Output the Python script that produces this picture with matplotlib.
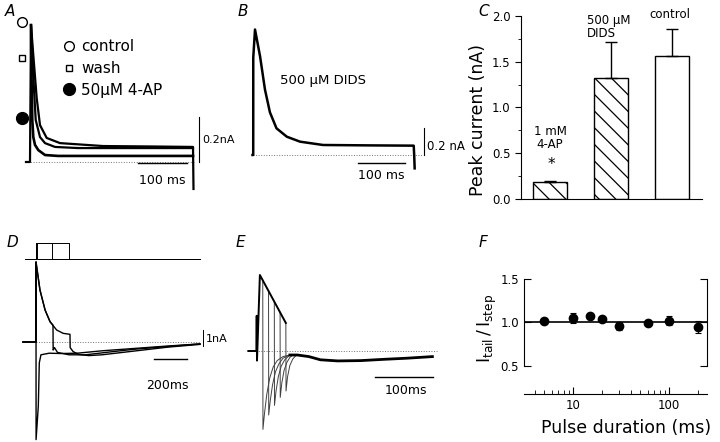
import numpy as np
import matplotlib.pyplot as plt
from matplotlib.lines import Line2D
from matplotlib.ticker import FixedLocator, LogLocator, NullFormatter

plt.rcParams['font.family'] = ['DejaVu Sans']
plt.rcParams['hatch.linewidth'] = 0.9

# ---------------- values ----------------
# A: K current (nA) vs time (ms)
A_t_ctrl = [-4, 4, 6, 10.6, 17.4, 24, 37.4, 64, 150, 250, 330, 331]
A_i_ctrl = [0, 0, 0.609, 0.476, 0.284, 0.164, 0.107, 0.084, 0.071, 0.069, 0.067, -0.12]
A_t_wash = [6, 10.6, 15.4, 24, 34, 54, 100, 330]
A_i_wash = [0.609, 0.378, 0.187, 0.111, 0.084, 0.067, 0.062, 0.062]
A_t_4ap = [6, 7, 8.6, 10.6, 14, 20.6, 34, 60, 330]
A_i_4ap = [0.609, 0.378, 0.187, 0.111, 0.076, 0.053, 0.031, 0.027, 0.027]
A_peak = [0.622, 0.462, 0.196]
A_names = ['control', 'wash', '50μM 4-AP']

# B: current in 500 uM DIDS
B_t = [-1, 0.5, 0.6, 4.3, 15, 25.5, 36, 50, 72, 100, 149, 250, 342, 343, 344]
B_i = [0, 0, 0.73, 0.94, 0.74, 0.49, 0.32, 0.2, 0.137, 0.1, 0.075, 0.072, 0.07, 0, -0.1]

# C: peak current (nA)
C_names = ['1 mM\n4-AP', '500 μM\nDIDS', 'control']
C_mean = [0.19, 1.32, 1.565]
C_sem = [0.01, 0.40, 0.29]

# D: pulses (ms) and currents (nA)
D_pulse = [5, 100, 200]
D_t_short = [-79, -2, 0, 0.5, 14, 20, 30, 80, 150, 250, 400, 600, 800, 994]
D_i_short = [0, 0, 5.0, -6.1, -4.0, -1.3, -0.8, -0.7, -0.72, -0.7, -0.55, -0.4, -0.25, -0.12]
D_t_mid = [-79, -1, 0, 24, 55, 85, 103, 104, 112, 130, 200, 300, 450, 600, 800, 994]
D_i_mid = [0, 0, 5.0, 3.25, 2.0, 1.27, 1.05, -0.5, -0.35, -0.65, -0.8, -0.8, -0.62, -0.45, -0.28, -0.12]
D_t_long = [-79, -1, 0, 24, 55, 85, 125, 165, 206, 207, 225, 260, 320, 400, 500, 650, 800, 994]
D_i_long = [0, 0, 5.0, 3.25, 2.0, 1.27, 0.75, 0.54, 0.48, -0.35, -0.6, -0.78, -0.85, -0.8, -0.68, -0.5, -0.32, -0.15]

# E: envelope and tail currents for 10-50 ms steps
E_t_env = [-15, -1, -0.5, 0, 5, 20, 35, 50]
E_i_env = [0, 0, 2.2, -0.6, 4.75, 3.75, 2.75, 1.75]
E_tail_t = [[10, 10.3, 13, 17, 22, 28, 35, 45, 57],
            [20, 20.3, 23, 27, 32, 38, 45, 57],
            [30, 30.3, 33, 37, 42, 48, 57],
            [40, 40.3, 43, 47, 52, 57, 62],
            [50, 50.3, 53, 57, 62, 67]]
E_tail_i = [[4.42, -4.9, -3.9, -2.7, -1.7, -1.0, -0.6, -0.35, -0.25],
            [3.75, -4.0, -3.1, -2.1, -1.3, -0.8, -0.45, -0.25],
            [3.08, -3.4, -2.5, -1.6, -0.95, -0.55, -0.25],
            [2.42, -2.9, -2.0, -1.2, -0.7, -0.4, -0.25],
            [1.75, -2.5, -1.6, -0.9, -0.5, -0.3]]
E_t_late = [57, 70, 90, 110, 140, 180, 220, 260, 304]
E_i_late = [-0.25, -0.25, -0.35, -0.55, -0.62, -0.6, -0.52, -0.45, -0.35]

# F: tail / step ratio vs pulse duration
F_dur = [5, 10, 15, 20, 30, 60, 100, 200]
F_ratio = [1.02, 1.05, 1.07, 1.04, 0.96, 0.99, 1.02, 0.95]
F_err = [0.01, 0.06, 0.01, 0.01, 0.05, 0.01, 0.05, 0.07]

fig = plt.figure(figsize=(7.2, 4.42), dpi=100)


def box(x0, y0, x1, y1):
    # axes from pixel box of the 720x442 figure
    return fig.add_axes([x0 / 720, 1 - y1 / 442, (x1 - x0) / 720, (y1 - y0) / 442])


for lab, x, y in [('A', 10, 12), ('B', 243, 12), ('C', 484, 12),
                  ('D', 12, 242), ('E', 240, 242), ('F', 483, 242)]:
    fig.text(x / 720, 1 - y / 442, lab, ha='center', va='center',
             style='italic', fontsize=11)

# ---- A
ax = box(10, 10, 245, 200)
ax.set_xlim(-36, 434)
ax.set_ylim(-0.169, 0.676)
ax.axis('off')
ax.plot([0, 334], [0, 0], ls=':', color='0.45', lw=0.7)
ax.plot(A_t_ctrl, A_i_ctrl, color='k', lw=1.6)
ax.plot(A_t_wash, A_i_wash, color='k', lw=1.6)
ax.plot(A_t_4ap, A_i_4ap, color='k', lw=1.9)
ax.plot([-12], [A_peak[0]], 'o', mfc='white', mec='k', ms=7, mew=1)
ax.plot([-12], [A_peak[1]], 's', mfc='white', mec='k', ms=5, mew=1)
ax.plot([-12], [A_peak[2]], 'o', color='k', ms=8.5)
ax.plot([342, 342], [0, 0.2], color='k', lw=0.8)
ax.plot([220, 318], [-0.004, -0.004], color='k', lw=1)
ax.text(348, 0.098, '0.2nA', fontsize=8, va='center', ha='left')
ax.text(268, -0.084, '100 ms', fontsize=9, va='center', ha='center')
handles = [Line2D([], [], marker='o', ls='none', mfc='white', mec='k', ms=7),
           Line2D([], [], marker='s', ls='none', mfc='white', mec='k', ms=5),
           Line2D([], [], marker='o', ls='none', color='k', ms=8.5)]
ax.legend(handles, A_names, loc='upper left', bbox_to_anchor=(61 / 720, 1 - 39 / 442),
          bbox_transform=fig.transFigure, frameon=False, handlelength=1.0,
          handletextpad=0.3, labelspacing=0.45, borderpad=0, borderaxespad=0,
          fontsize=11)

# ---- B
ax = box(245, 15, 475, 195)
ax.set_xlim(-17, 472.4)
ax.set_ylim(-0.2996, 1.0487)
ax.axis('off')
ax.plot([0, 362], [0, 0], ls=':', color='0.45', lw=0.7)
ax.plot(B_t, B_i, color='k', lw=1.8)
ax.plot([364, 364], [0, 0.2], color='k', lw=0.8)
ax.plot([223, 323], [-0.06, -0.06], color='k', lw=1)
ax.text(370, 0.06, '0.2 nA', fontsize=8.5, va='center', ha='left')
ax.text(272, -0.15, '100 ms', fontsize=9, va='center', ha='center')
ax.text(149, 0.56, '500 μM DIDS', fontsize=9.5, va='center', ha='center')

# ---- C
ax = box(521, 16, 702, 199)
bars = ax.bar(range(3), C_mean, width=0.557, color='white', edgecolor='k', lw=1)
bars[0].set_hatch('\\\\')
bars[1].set_hatch('\\\\')
ax.errorbar(range(3), C_mean, yerr=[[0, 0, 0], C_sem], fmt='none', ecolor='k',
            elinewidth=1, capsize=4, capthick=1)
ax.set_xlim(-0.475, 2.49)
ax.set_ylim(0, 2.0)
ax.spines[['top', 'right']].set_visible(False)
ax.set_xticks([])
ax.yaxis.set_major_locator(FixedLocator([0, 0.5, 1.0, 1.5, 2.0]))
ax.yaxis.set_minor_locator(FixedLocator([0.25, 0.75, 1.25, 1.75]))
ax.set_yticklabels(['0.0', '0.5', '1.0', '1.5', '2.0'], fontsize=8.5)
ax.tick_params(axis='y', which='major', length=4, direction='out')
ax.tick_params(axis='y', which='minor', length=2, direction='out')
ax.set_ylabel('Peak current (nA)', fontsize=12.5)
ax.yaxis.set_label_coords(-0.188, 0.43)
ax.text(0, 0.53, C_names[0], ha='center', va='bottom', fontsize=8.5, linespacing=1.0)
ax.text(0.03, 0.38, '*', ha='center', va='center', fontsize=11)
ax.text(0.6, 1.74, C_names[1], ha='left', va='bottom', fontsize=8.5, linespacing=1.0)
ax.text(1.97, 1.95, C_names[2], ha='center', va='bottom', fontsize=8.5)

# ---- D
axp = box(20, 238, 215, 264)
axp.set_xlim(-97, 1085)
axp.set_ylim(-0.3125, 1.3125)
axp.axis('off')
for d in D_pulse:
    axp.plot([-67, 0, 0, d, d, 994], [0, 0, 1, 1, 0, 0], color='k', lw=0.7)

ax = box(20, 258, 215, 442)
ax.set_xlim(-97, 1085)
ax.set_ylim(-6.25, 5.25)
ax.axis('off')
ax.plot([-79, 994], [0, 0], ls=':', color='0.45', lw=0.7)
ax.plot(D_t_short, D_i_short, color='k', lw=1)
ax.plot(D_t_mid, D_i_mid, color='k', lw=1)
ax.plot(D_t_long, D_i_long, color='k', lw=1)
ax.plot([1012, 1012], [-0.25, 0.75], color='k', lw=0.7)
ax.text(1030, 0.2, '1nA', fontsize=8, va='center', ha='left')
ax.plot([715, 915], [-1.05, -1.05], color='k', lw=1)
ax.text(794, -2.7, '200ms', fontsize=9, va='center', ha='center')

# ---- E
ax = box(240, 262, 440, 442)
ax.set_xlim(-29.46, 317.2)
ax.set_ylim(-5.6875, 5.5625)
ax.axis('off')
ax.plot([-15.6, 312], [0, 0], ls=':', color='0.45', lw=0.7)
for tt, ii in zip(E_tail_t, E_tail_i):
    ax.plot(tt, ii, color='0.25', lw=0.7)
ax.plot(E_t_env, E_i_env, color='k', lw=1.4)
ax.plot(E_t_late, E_i_late, color='k', lw=2)
ax.plot([204.5, 305], [-1.6, -1.6], color='k', lw=1)
ax.text(258, -2.45, '100ms', fontsize=9, va='center', ha='center')

# ---- F
ax = box(524, 279, 707, 394)
ax.set_xscale('log')
ax.set_xlim(3.1, 248)
ax.set_ylim(0.178, 1.5)
ax.axhline(1.0, color='k', lw=1.2)
ax.errorbar(F_dur, F_ratio, yerr=F_err, fmt='o', color='k', ms=6,
            elinewidth=0.8, capsize=2.5, capthick=0.8, zorder=3)
ax.spines['top'].set_visible(False)
ax.spines['left'].set_bounds(0.5, 1.5)
ax.spines['right'].set_bounds(0.5, 1.5)
for s in ['left', 'right', 'bottom']:
    ax.spines[s].set_linewidth(0.8)
ax.yaxis.set_major_locator(FixedLocator([0.5, 1.0, 1.5]))
ax.set_yticklabels(['0.5', '1.0', '1.5'], fontsize=8.5)
ax.tick_params(axis='y', direction='in', left=True, right=True, length=5)
ax.xaxis.set_major_locator(FixedLocator([10, 100]))
ax.xaxis.set_minor_locator(LogLocator(subs=np.arange(2, 10)))
ax.xaxis.set_minor_formatter(NullFormatter())
ax.set_xticklabels(['10', '100'], fontsize=8.5)
ax.tick_params(axis='x', which='major', direction='in', length=5)
ax.tick_params(axis='x', which='minor', direction='in', length=3)
ax.set_xlabel('Pulse duration (ms)', fontsize=12.5)
ax.xaxis.set_label_coords(0.557, -0.215)
ax.set_ylabel(r'$\mathregular{I_{tail}\,/\,I_{step}}$', fontsize=12.5)
ax.yaxis.set_label_coords(-0.135, 0.57)

fig.savefig('out.png', dpi=100)
